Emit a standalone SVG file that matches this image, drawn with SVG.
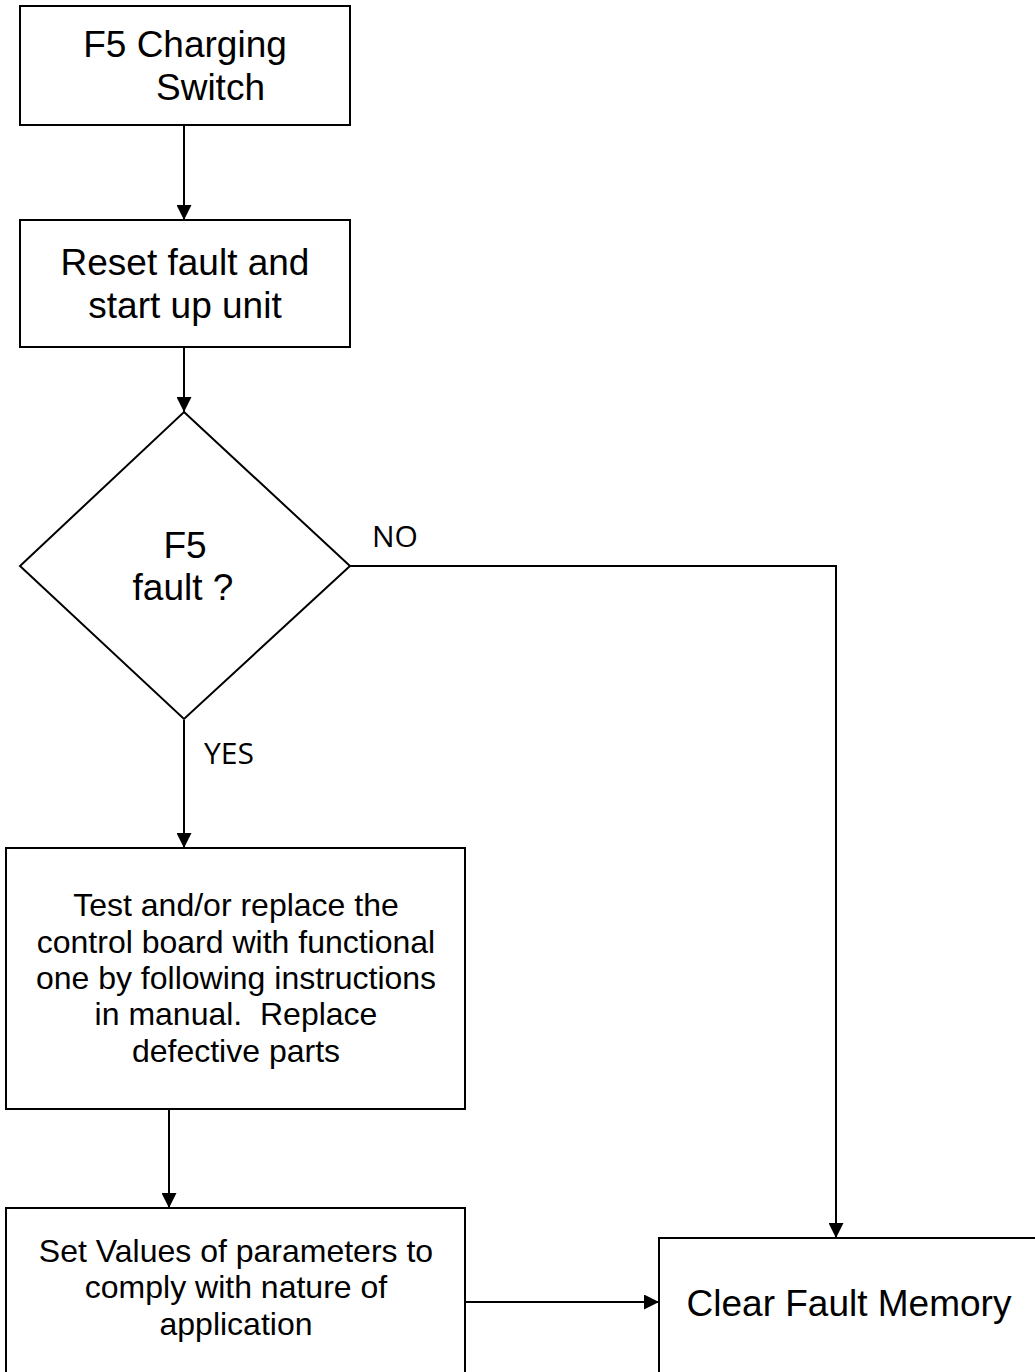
<svg xmlns="http://www.w3.org/2000/svg" width="1035" height="1372" viewBox="0 0 1035 1372">
<style>
.box{fill:#fff;stroke:#000;stroke-width:2}
.t{font-family:"Liberation Sans",Arial,sans-serif;font-size:37px;fill:#000;text-anchor:middle}
.s{font-family:"Liberation Sans",Arial,sans-serif;font-size:32px;fill:#000;text-anchor:middle}
.lbl{font-family:"Open Sans",sans-serif;font-size:30px;fill:#000}
.c{fill:none;stroke:#000;stroke-width:2}
</style>
<defs>
<marker id="arr" viewBox="0 0 15 15" refX="15" refY="7.5" markerWidth="15" markerHeight="15" markerUnits="userSpaceOnUse" orient="auto">
<path d="M0,0 L15,7.5 L0,15 Z" fill="#000"/>
</marker>
</defs>
<rect width="1035" height="1372" fill="#fff"/>
<g id="connectors">
<line class="c" x1="184" y1="125" x2="184" y2="220" marker-end="url(#arr)"/>
<line class="c" x1="184" y1="347" x2="184" y2="412" marker-end="url(#arr)"/>
<polyline class="c" points="350,566 836,566 836,1238" marker-end="url(#arr)"/>
<line class="c" x1="184" y1="720" x2="184" y2="848" marker-end="url(#arr)"/>
<line class="c" x1="169" y1="1109" x2="169" y2="1208" marker-end="url(#arr)"/>
<line class="c" x1="465" y1="1302" x2="659" y2="1302" marker-end="url(#arr)"/>
<text class="lbl" x="372" y="547">NO</text>
<text class="lbl" x="204" y="764">YES</text>
</g>
<g id="node-charging">
<rect class="box" x="20" y="6" width="330" height="119"/>
<text class="t" x="185" y="57">F5 Charging</text>
<text class="t" x="156" y="100" style="text-anchor:start">Switch</text>
</g>
<g id="node-reset">
<rect class="box" x="20" y="220" width="330" height="127"/>
<text class="t" x="185" y="275">Reset fault and</text>
<text class="t" x="185" y="318">start up unit</text>
</g>
<g id="node-decision">
<polygon class="box" points="184,412 350,566 184,719 20,566"/>
<text class="t" x="185" y="558">F5</text>
<text class="t" x="183" y="600">fault ?</text>
</g>
<g id="node-test">
<rect class="box" x="6" y="848" width="459" height="261"/>
<text class="s" x="236" y="916">Test and/or replace the</text>
<text class="s" x="236" y="953">control board with functional</text>
<text class="s" x="236" y="989">one by following instructions</text>
<text class="s" x="236" y="1025" xml:space="preserve">in manual.  Replace</text>
<text class="s" x="236" y="1062">defective parts</text>
</g>
<g id="node-set">
<rect class="box" x="6" y="1208" width="459" height="180"/>
<text class="s" x="236" y="1262">Set Values of parameters to</text>
<text class="s" x="236" y="1298">comply with nature of</text>
<text class="s" x="236" y="1335">application</text>
</g>
<g id="node-clear">
<rect class="box" x="659" y="1238" width="400" height="150"/>
<text class="t" x="849" y="1316">Clear Fault Memory</text>
</g>
</svg>
